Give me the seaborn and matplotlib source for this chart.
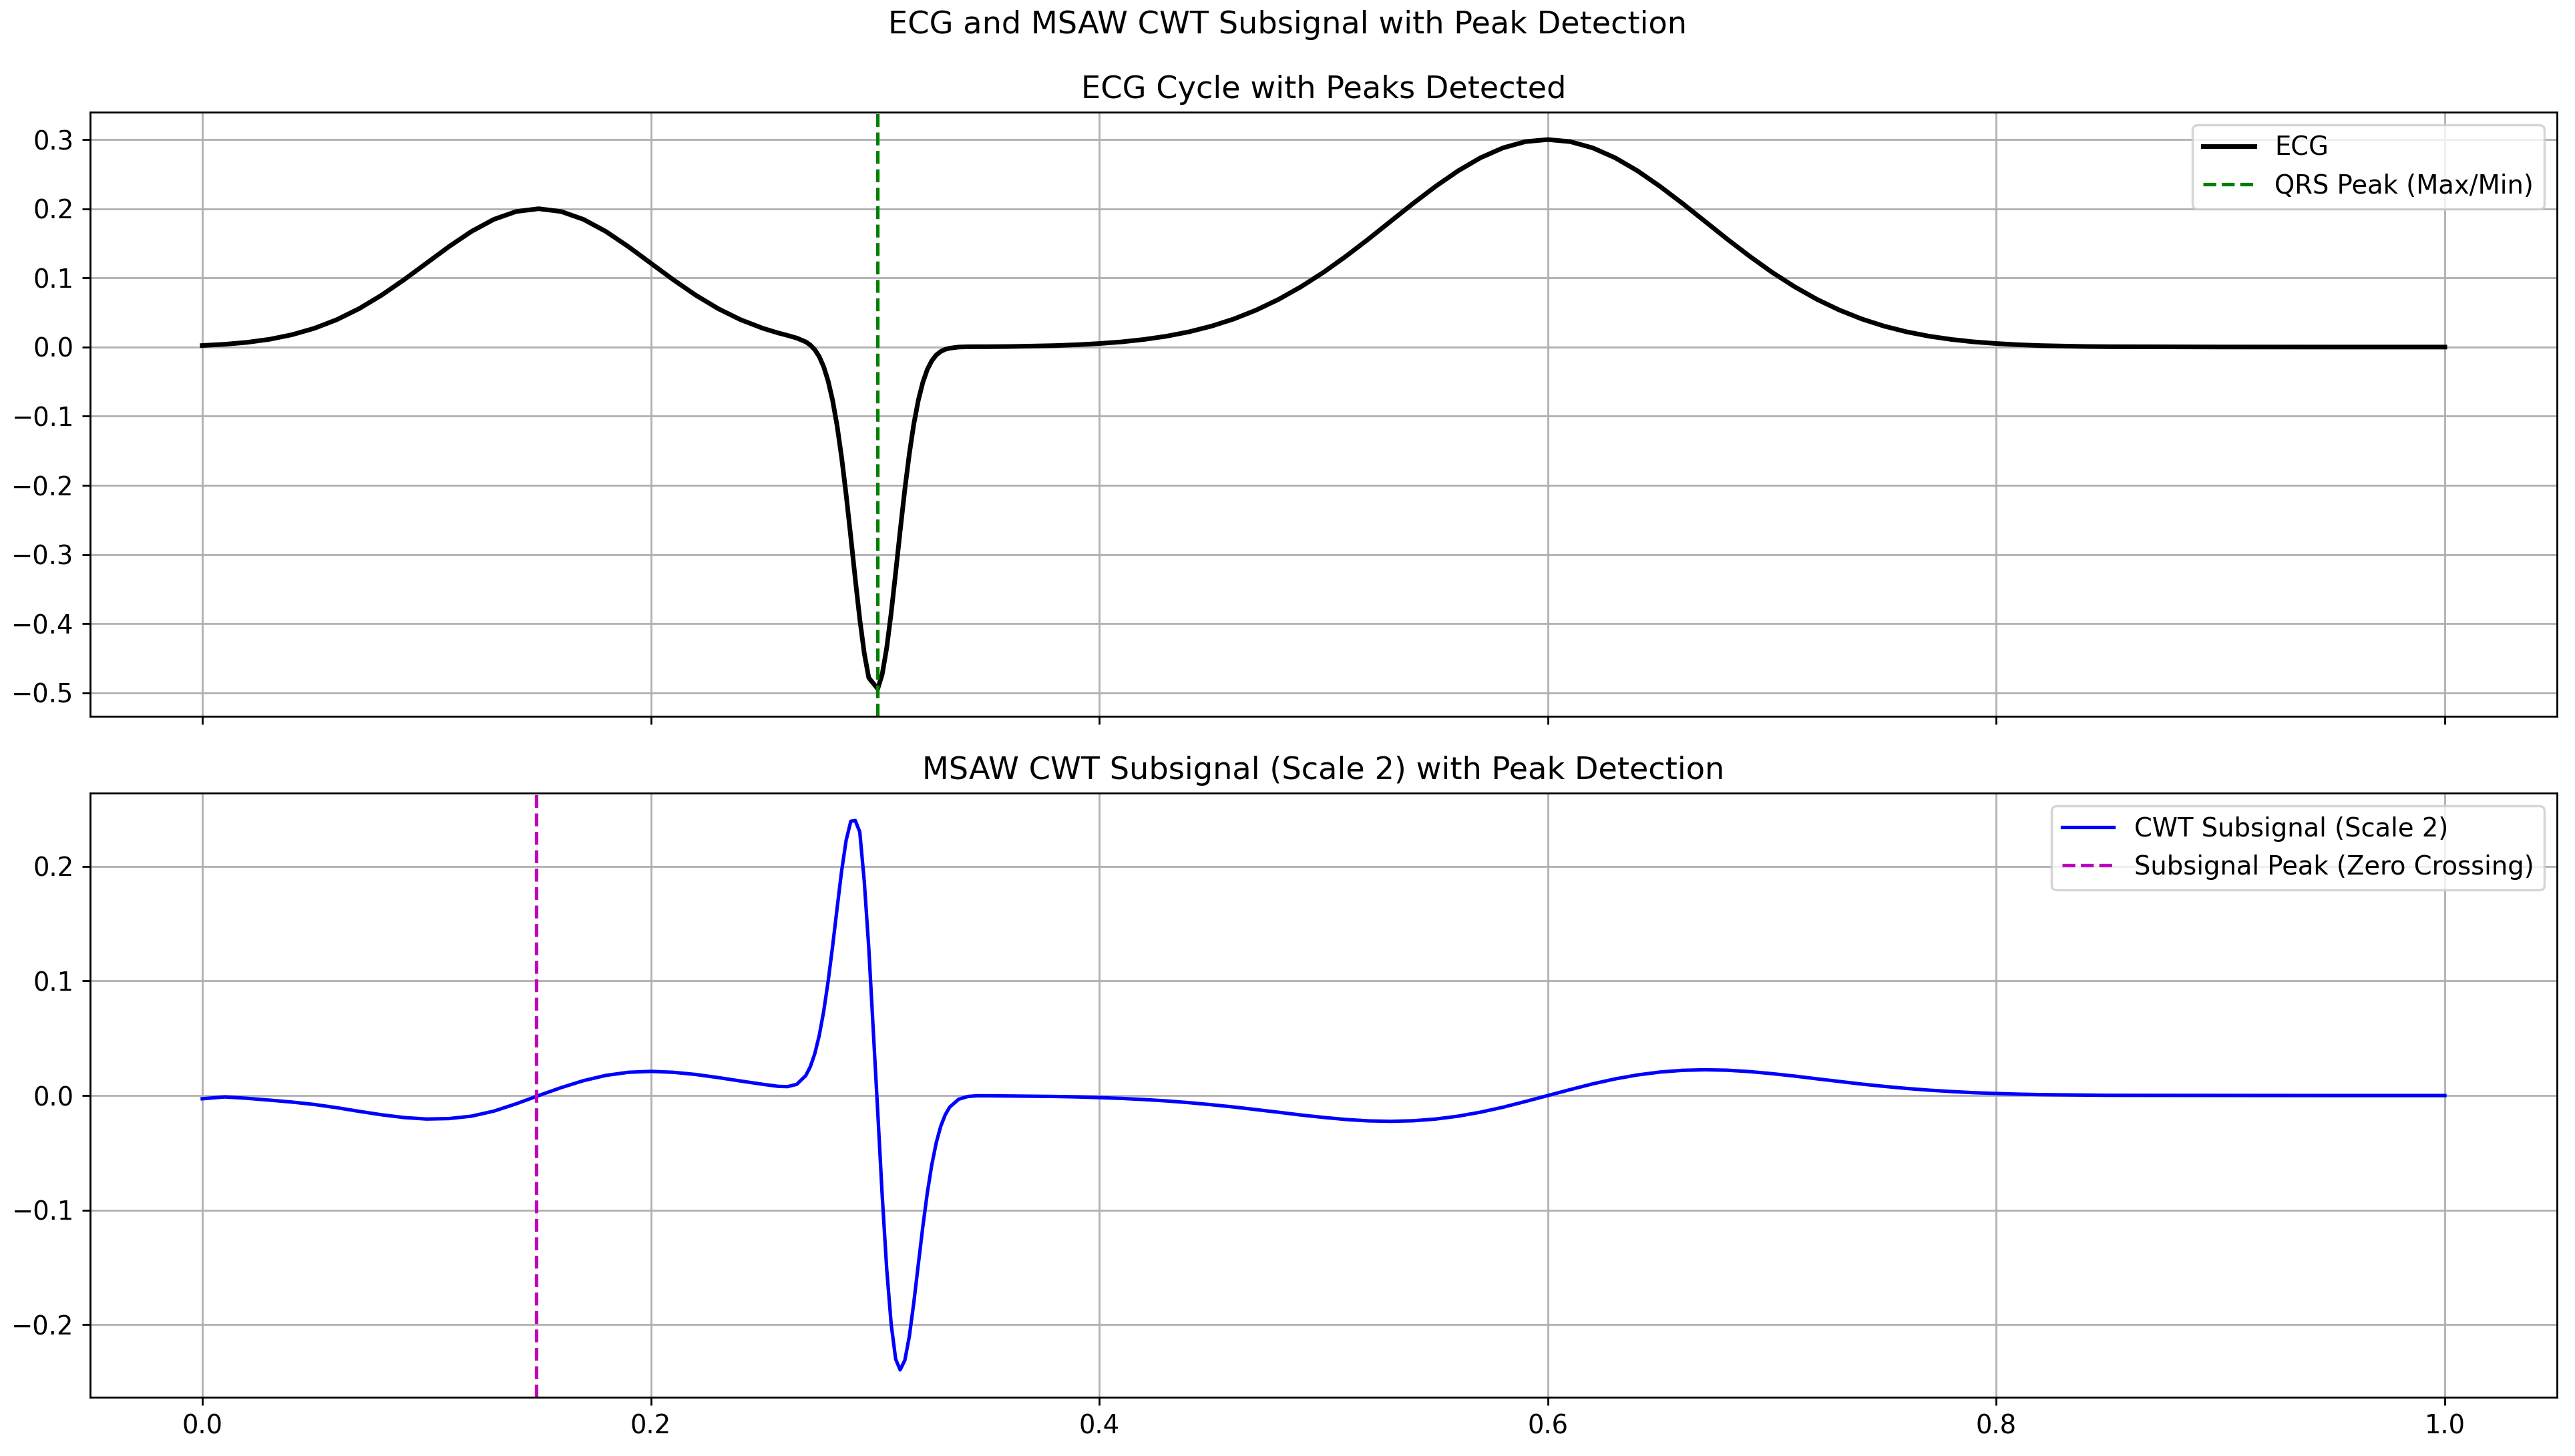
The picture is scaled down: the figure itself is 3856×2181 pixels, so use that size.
import matplotlib
matplotlib.use("Agg")
import matplotlib.pyplot as plt
import seaborn as sns
import pandas as pd

# time axis (s), denser sampling around the QRS complex
time_p = [0.00, 0.01, 0.02, 0.03, 0.04, 0.05, 0.06, 0.07, 0.08, 0.09, 0.10, 0.11, 0.12,
          0.13, 0.14, 0.15, 0.16, 0.17, 0.18, 0.19, 0.20, 0.21, 0.22, 0.23, 0.24, 0.25]
time_qrs = [0.2570, 0.2610, 0.2651, 0.2691, 0.2711, 0.2731, 0.2751, 0.2771, 0.2791, 0.2811,
            0.2831, 0.2851, 0.2871, 0.2892, 0.2912, 0.2932, 0.2952, 0.2972, 0.3012, 0.3032,
            0.3052, 0.3072, 0.3092, 0.3112, 0.3133, 0.3153, 0.3173, 0.3193, 0.3213, 0.3233,
            0.3253, 0.3273, 0.3293, 0.3313, 0.3333, 0.3373, 0.3414, 0.3454]
time_t = [0.35, 0.36, 0.37, 0.38, 0.39, 0.40, 0.41, 0.42, 0.43, 0.44, 0.45, 0.46, 0.47,
          0.48, 0.49, 0.50, 0.51, 0.52, 0.53, 0.54, 0.55, 0.56, 0.57, 0.58, 0.59, 0.60,
          0.61, 0.62, 0.63, 0.64, 0.65, 0.66, 0.67, 0.68, 0.69, 0.70, 0.71, 0.72, 0.73,
          0.74, 0.75, 0.76, 0.77, 0.78, 0.79, 0.80, 0.81, 0.82, 0.83, 0.84, 0.85,
          0.90, 0.95, 1.00]

ecg_p = [0.0022, 0.0040, 0.0068, 0.0112, 0.0178, 0.0271, 0.0396, 0.0556, 0.0751, 0.0974,
         0.1213, 0.1452, 0.1671, 0.1846, 0.1960, 0.2000, 0.1960, 0.1846, 0.1671, 0.1452,
         0.1213, 0.0974, 0.0751, 0.0556, 0.0396, 0.0271]
ecg_qrs = [0.0202, 0.0168, 0.0130, 0.0075, 0.0030, -0.0037, -0.0137, -0.0284, -0.0492,
           -0.0774, -0.1141, -0.1596, -0.2130, -0.2750, -0.3358, -0.3935, -0.4427, -0.4782,
           -0.4943, -0.4732, -0.4351, -0.3845, -0.3262, -0.2660, -0.2055, -0.1543, -0.1112,
           -0.0770, -0.0512, -0.0325, -0.0199, -0.0115, -0.0064, -0.0033, -0.0017, 0.0000,
           0.0004, 0.0005]
ecg_t = [0.0005, 0.0008, 0.0014, 0.0021, 0.0033, 0.0051, 0.0075, 0.0110, 0.0157, 0.0220,
         0.0302, 0.0406, 0.0535, 0.0690, 0.0873, 0.1081, 0.1313, 0.1561, 0.1820, 0.2078,
         0.2324, 0.2548, 0.2737, 0.2880, 0.2970, 0.3000, 0.2970, 0.2880, 0.2737, 0.2548,
         0.2324, 0.2078, 0.1820, 0.1561, 0.1313, 0.1081, 0.0873, 0.0690, 0.0535, 0.0406,
         0.0302, 0.0220, 0.0157, 0.0110, 0.0075, 0.0051, 0.0033, 0.0021, 0.0014, 0.0008,
         0.0005, 0.0001, 0.0000, 0.0000]

cwt_p = [-0.0028, -0.0012, -0.0024, -0.0040, -0.0057, -0.0078, -0.0106, -0.0138, -0.0168,
         -0.0192, -0.0205, -0.0201, -0.0180, -0.0136, -0.0072, 0.0000, 0.0069, 0.0130,
         0.0176, 0.0203, 0.0211, 0.0203, 0.0184, 0.0157, 0.0127, 0.0098]
cwt_qrs = [0.0080, 0.0078, 0.0098, 0.0174, 0.0250, 0.0363, 0.0522, 0.0734, 0.0998, 0.1306,
           0.1637, 0.1959, 0.2226, 0.2394, 0.2400, 0.2300, 0.1870, 0.1292, -0.0141, -0.0872,
           -0.1511, -0.1995, -0.2300, -0.2394, -0.2310, -0.2101, -0.1806, -0.1473, -0.1146,
           -0.0851, -0.0605, -0.0411, -0.0268, -0.0168, -0.0101, -0.0032, -0.0008, -0.0002]
cwt_t = [-0.0002, -0.0004, -0.0006, -0.0008, -0.0012, -0.0018, -0.0025, -0.0035, -0.0047,
         -0.0062, -0.0080, -0.0100, -0.0123, -0.0146, -0.0170, -0.0191, -0.0209, -0.0221,
         -0.0225, -0.0220, -0.0205, -0.0180, -0.0145, -0.0102, -0.0052, 0.0000, 0.0052,
         0.0102, 0.0145, 0.0180, 0.0205, 0.0220, 0.0225, 0.0221, 0.0209, 0.0191, 0.0170,
         0.0146, 0.0123, 0.0100, 0.0080, 0.0062, 0.0047, 0.0035, 0.0025, 0.0018, 0.0012,
         0.0008, 0.0006, 0.0004, 0.0002, 0.0001, 0.0000, 0.0000]

qrs_peak_time = 0.301
zero_cross_time = 0.149

df = pd.DataFrame({
    "time": time_p + time_qrs + time_t,
    "ecg": ecg_p + ecg_qrs + ecg_t,
    "cwt": cwt_p + cwt_qrs + cwt_t,
})

plt.rcParams["font.size"] = 11.1

fig, (ax1, ax2) = plt.subplots(2, 1, figsize=(15.424, 8.724), dpi=250, sharex=True)
fig.subplots_adjust(left=0.035, right=0.993, top=0.923, bottom=0.0403, hspace=0.127)

sns.lineplot(data=df, x="time", y="ecg", ax=ax1, color="k", linewidth=2, label="ECG")
ax1.axvline(qrs_peak_time, color="g", linestyle="--", linewidth=1.5, label="QRS Peak (Max/Min)")
ax1.set_title("ECG Cycle with Peaks Detected")
ax1.legend(loc="upper right")
ax1.grid(True)
ax1.set_xlabel("")
ax1.set_ylabel("")

sns.lineplot(data=df, x="time", y="cwt", ax=ax2, color="b", linewidth=1.5,
             label="CWT Subsignal (Scale 2)")
ax2.axvline(zero_cross_time, color="m", linestyle="--", linewidth=1.5,
            label="Subsignal Peak (Zero Crossing)")
ax2.set_title("MSAW CWT Subsignal (Scale 2) with Peak Detection")
ax2.legend(loc="upper right")
ax2.grid(True)
ax2.set_xlabel("")
ax2.set_ylabel("")

fig.suptitle("ECG and MSAW CWT Subsignal with Peak Detection", fontsize="large", y=0.983, va="center")

plt.savefig("out.png", dpi=250)
